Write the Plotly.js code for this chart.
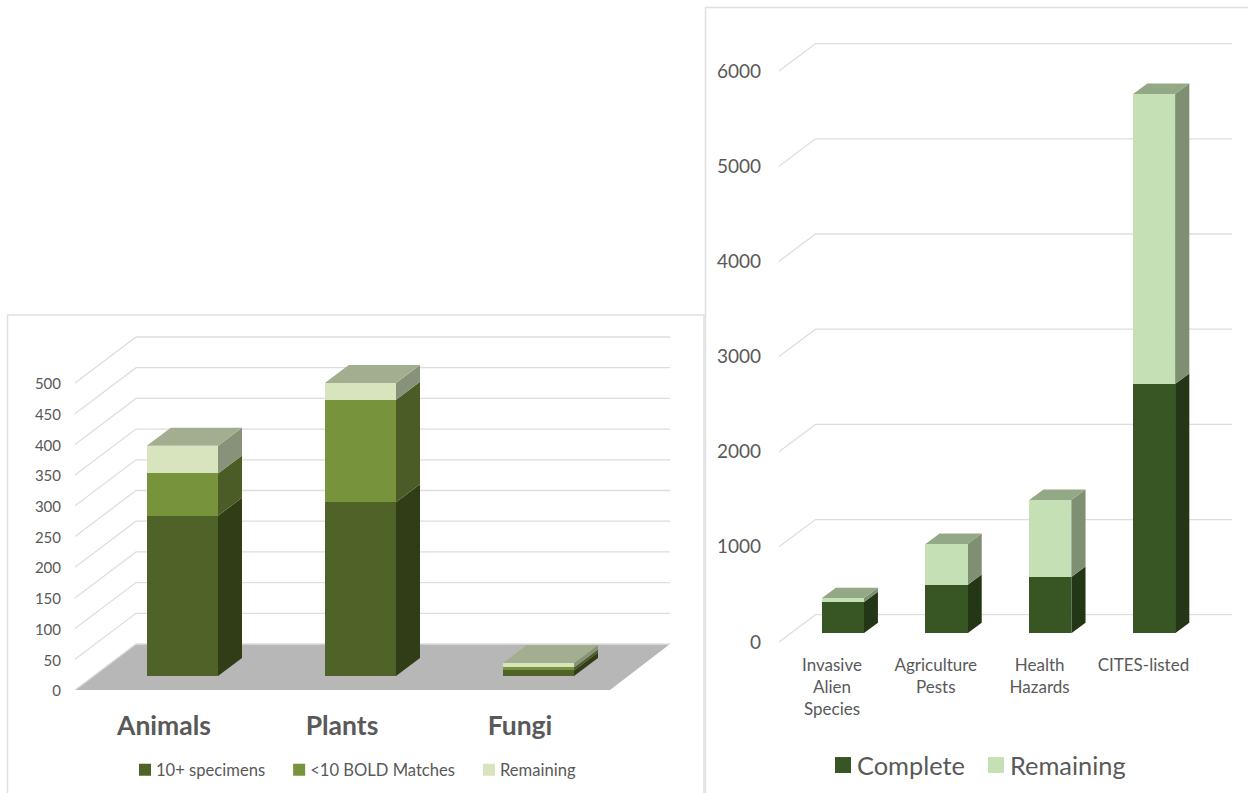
<!DOCTYPE html>
<html>
<head>
<meta charset="utf-8">
<script src="https://cdn.plot.ly/plotly-3.0.1.min.js"></script>
<style>
html,body{margin:0;padding:0;background:#fff}
/* the reference keeps its legend keys close to their text */
#chart .legend .legendsymbols{transform:translateX(9px)}
#chart .legend2 .legendsymbols{transform:translateX(6px)}
#chart .legend2 .legendsymbols .legendpoints path{transform:translate(20px,0) scale(1.33) !important}
</style>
</head>
<body>
<div id="chart" style="width:1248px;height:793px"></div>
<script>
// ---- left chart data ----
const groupCats = ["Animals", "Plants", "Fungi"];
const specimens10 = [261, 283, 9];
const boldMatches = [69, 167, 5];
const remainingGroup = [45, 27, 7];
const groupTicks = [0, 50, 100, 150, 200, 250, 300, 350, 400, 450, 500];
// ---- right chart data ----
const listCats = ["Invasive<br>Alien<br>Species", "Agriculture<br>Pests", "Health<br>Hazards", "CITES-listed"];
const complete = [326, 507, 592, 2620];
const remainingList = [42, 431, 808, 3047];
const listTicks = [0, 1000, 2000, 3000, 4000, 5000, 6000];

const W = 1248, H = 793;
const FONT = "Lato, 'Open Sans', sans-serif";
const TXT = "#595959";
const GRID = "#dedede";

const traces = [];
const layout = {
  width: W, height: H,
  margin: {l: 0, r: 0, t: 0, b: 0, pad: 0},
  paper_bgcolor: "#fff", plot_bgcolor: "rgba(0,0,0,0)",
  barmode: "stack",
  font: {family: FONT, color: TXT},
  showlegend: true,
  hovermode: false,
  shapes: [
    {type: "path", xref: "paper", yref: "paper", layer: "below",
     path: `M${7.5/W},0 L${7.5/W},${1-315/H} L${704/W},${1-315/H} L${704/W},0`,
     line: {color: "#e0e0e0", width: 1.5}},
    {type: "path", xref: "paper", yref: "paper", layer: "below",
     path: `M${705.5/W},0 L${705.5/W},${1-7.5/H} L1,${1-7.5/H}`,
     line: {color: "#e0e0e0", width: 1.5}}
  ]
};

// A chart is three stacked subplots on one domain: back wall + floor + axes,
// then the side and top faces, then the real bar traces.
function build(o) {
  const xd = [o.L / W, o.R / W], yd = [1 - o.B / H, 1 - o.T / H];
  const [a, b, c] = o.ids;
  const axn = i => (i === 1 ? "" : i);
  const bgX = px => (px - o.labelX0) / o.step;
  const bgY = py => (o.wallY0 - py) / o.wallK;
  const xBg = [bgX(o.L), bgX(o.R)], yBg = [bgY(o.B), bgY(o.T)];
  const barX = px => (px - o.barX0) / o.step;
  const barY = py => (o.barY0 - py) / o.wallK;
  const xBar = [barX(o.L), barX(o.R)], yBar = [barY(o.B), barY(o.T)];
  const idx = o.cats.map((_, i) => i);

  layout["xaxis" + axn(a)] = {domain: xd, range: xBg, anchor: "y" + axn(a), tickmode: "array",
    tickvals: idx, ticktext: o.cats, showgrid: false, zeroline: false, showline: false, ticks: "",
    tickangle: 0, tickfont: o.catFont, ticklabelstandoff: o.catStandoff};
  layout["yaxis" + axn(a)] = {domain: yd, range: yBg, anchor: "x" + axn(a), tickmode: "array",
    tickvals: o.ticks, showgrid: false, zeroline: false, showline: false, ticks: "",
    tickfont: o.tickFont, ticklabelshift: o.tickShift};
  layout["xaxis" + axn(b)] = {domain: xd, range: xBar, anchor: "y" + axn(b), visible: false};
  layout["yaxis" + axn(b)] = {domain: yd, range: yBar, anchor: "x" + axn(b), visible: false};
  layout["xaxis" + axn(c)] = {domain: xd, range: xBar, anchor: "y" + axn(c), visible: false,
    type: "category", categoryorder: "array", categoryarray: o.cats};
  layout["yaxis" + axn(c)] = {domain: yd, range: yBar, anchor: "x" + axn(c), visible: false};

  const wallDepth = o.wallDy / o.wallK;
  if (o.floor) {
    traces.push({type: "scatter", mode: "lines", fill: "toself", fillcolor: o.floor, line: {width: 0},
      x: [bgX(o.floorFL), bgX(o.wallX), bgX(o.floorBR), bgX(o.floorFR), bgX(o.floorFL)],
      y: [0, wallDepth, wallDepth, 0, 0],
      xaxis: "x" + axn(a), yaxis: "y" + axn(a), showlegend: false, hoverinfo: "skip"});
  }
  const gx = [], gy = [];
  o.ticks.forEach(t => {
    gx.push(bgX(o.floorFL), bgX(o.wallX), bgX(o.floorBR), null);
    gy.push(t, t + wallDepth, t + wallDepth, null);
  });
  traces.push({type: "scatter", mode: "lines", x: gx, y: gy, line: {color: GRID, width: 1.3},
    xaxis: "x" + axn(a), yaxis: "y" + axn(a), showlegend: false, hoverinfo: "skip"});

  const half = o.barW / 2, dx = o.depthX / o.step, dy = o.depthY / o.wallK;
  const lows = o.cats.map(() => 0);
  o.series.forEach(s => {
    const fx = [], fy = [];
    s.values.forEach((v, i) => {
      const lo = lows[i], hi = lo + v, r = i + half;
      fx.push(r, r + dx, r + dx, r, r, null);
      fy.push(lo, lo + dy, hi + dy, hi, lo, null);
      lows[i] = hi;
    });
    traces.push({type: "scatter", mode: "lines", fill: "toself", fillcolor: s.side, line: {width: 0},
      x: fx, y: fy, xaxis: "x" + axn(b), yaxis: "y" + axn(b), showlegend: false, hoverinfo: "skip"});
  });
  const tx = [], ty = [];
  lows.forEach((top, i) => {
    tx.push(i - half, i - half + dx, i + half + dx, i + half, i - half, null);
    ty.push(top, top + dy, top + dy, top, top, null);
  });
  traces.push({type: "scatter", mode: "lines", fill: "toself", fillcolor: o.topColor, line: {width: 0},
    x: tx, y: ty, xaxis: "x" + axn(b), yaxis: "y" + axn(b), showlegend: false, hoverinfo: "skip"});

  o.series.forEach(s => {
    traces.push({type: "bar", name: s.name, x: o.cats, y: s.values, width: o.barW,
      marker: {color: s.front, line: {width: 0}},
      xaxis: "x" + axn(c), yaxis: "y" + axn(c), legend: o.legend, hoverinfo: "skip"});
  });
}

build({
  ids: [1, 2, 3], L: 62, R: 700, T: 325, B: 703,
  cats: groupCats, ticks: groupTicks,
  labelX0: 164, barX0: 182.4, step: 178,
  wallY0: 690, barY0: 676, wallK: 0.614, wallX: 136, wallDy: 46,
  floorFL: 75, floorFR: 610, floorBR: 670, floor: "#b7b7b7",
  barW: 0.4, depthX: 24, depthY: 18, topColor: "#a3ae90",
  catFont: {family: FONT, size: 26.5, color: TXT, weight: 700}, catStandoff: 4,
  tickFont: {family: FONT, size: 15, color: TXT}, tickShift: 1,
  legend: "legend",
  series: [
    {name: "10+ specimens", values: specimens10, front: "#4f6228", side: "#313d17"},
    {name: "<10 BOLD Matches", values: boldMatches, front: "#77933c", side: "#4b5c26"},
    {name: "Remaining", values: remainingGroup, front: "#d7e4bd", side: "#88927a"}
  ]
});

build({
  ids: [4, 5, 6], L: 762, R: 1246, T: 20, B: 650,
  cats: listCats, ticks: listTicks,
  labelX0: 832, barX0: 842.7, step: 103.8,
  wallY0: 642, barY0: 633.3, wallK: 0.09517, wallX: 815.5, wallDy: 27.3,
  floorFL: 779, floorFR: 1196, floorBR: 1232, floor: null,
  barW: 0.405, depthX: 14.2, depthY: 10.5, topColor: "#93a985",
  catFont: {family: FONT, size: 17, color: TXT}, catStandoff: 3,
  tickFont: {family: FONT, size: 19, color: TXT}, tickShift: 1.5,
  legend: "legend2",
  series: [
    {name: "Complete", values: complete, front: "#375623", side: "#233615"},
    {name: "Remaining", values: remainingList, front: "#c5e0b4", side: "#7f8f72"}
  ]
});

layout.legend = {orientation: "h", x: 116 / W, y: 1 - 770 / H, xanchor: "left", yanchor: "middle",
  bgcolor: "rgba(0,0,0,0)", font: {family: FONT, size: 16.6, color: TXT}, traceorder: "normal"};
layout.legend2 = {orientation: "h", x: 817 / W, y: 1 - 765.5 / H, xanchor: "left", yanchor: "middle",
  bgcolor: "rgba(0,0,0,0)", font: {family: FONT, size: 25.4, color: TXT}, traceorder: "normal"};

Plotly.newPlot("chart", traces, layout, {displayModeBar: false, responsive: false});
</script>
</body>
</html>
